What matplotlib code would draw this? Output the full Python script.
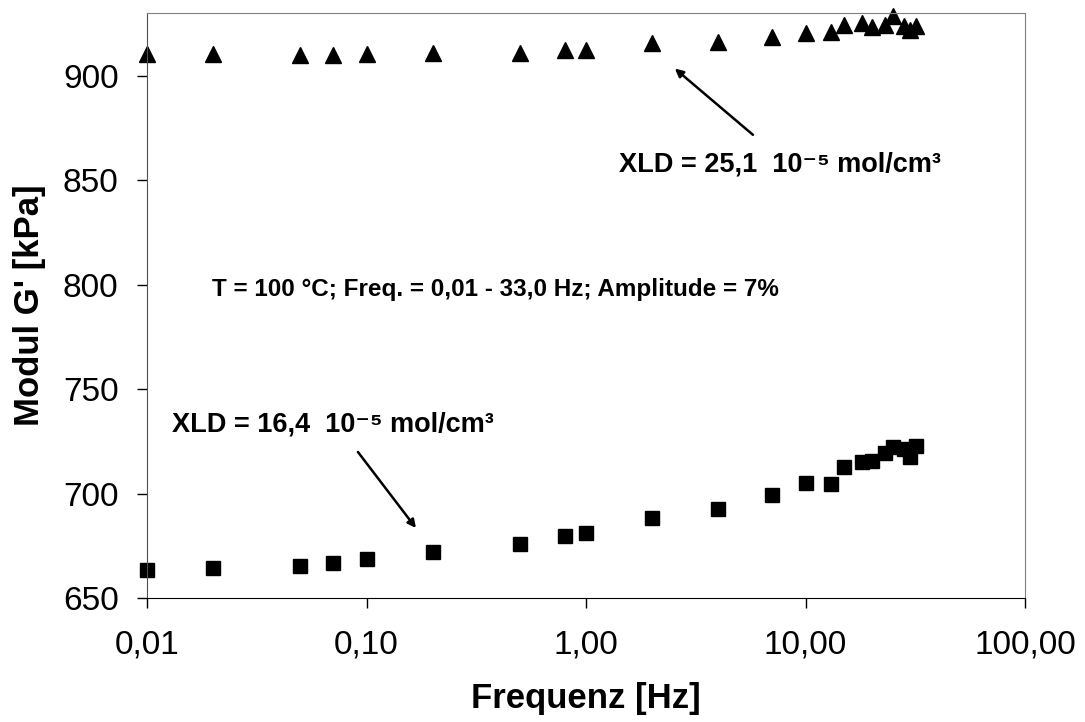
import numpy as np
import matplotlib
matplotlib.use("Agg")
import matplotlib.pyplot as plt
from matplotlib.ticker import FixedLocator, FuncFormatter, NullLocator

plt.rcParams['font.family'] = ['Liberation Sans', 'DejaVu Sans']

# Frequenz [Hz]
freq = [0.01, 0.02, 0.05, 0.07, 0.1, 0.2, 0.5, 0.8, 1.0, 2.0, 4.0, 7.0,
        10.0, 13.0, 15.0, 18.0, 20.0, 23.0, 25.0, 28.0, 30.0, 32.0]
# Modul G' [kPa], XLD = 25,1
g_hoch = [910.5, 910.5, 910, 910, 910.5, 911, 911, 912.5, 912.5, 915.8, 916, 918.7,
          920.6, 921, 924.4, 925, 923.5, 924.4, 928.7, 924, 922, 924]
# Modul G' [kPa], XLD = 16,4
g_tief = [663.4, 664.4, 665.3, 666.8, 668.7, 672, 675.9, 679.7, 681,
          688.3, 692.6, 699.3, 705, 704.6, 712.7, 715, 715.6, 719.4, 722.3, 721.4, 717.5, 722.8]

xticks = [0.01, 0.1, 1, 10, 100]
yticks = [650, 700, 750, 800, 850, 900]

fig = plt.figure(figsize=(10.85, 7.22), dpi=100)
ax = fig.add_axes([0.1355, 0.1717, 0.8092, 0.8103])

ax.plot(freq, g_hoch, linestyle='none', marker='^', color='black', ms=11, clip_on=False)
ax.plot(freq, g_tief, linestyle='none', marker='s', color='black', ms=10, clip_on=False)

ax.set_xscale('log')
ax.set_xlim(0.01, 100)
ax.set_ylim(650, 930)
ax.xaxis.set_major_locator(FixedLocator(xticks))
ax.xaxis.set_minor_locator(NullLocator())
ax.xaxis.set_major_formatter(FuncFormatter(lambda v, p: ('%.2f' % v).replace('.', ',')))
ax.set_yticks(yticks)

ax.tick_params(axis='both', direction='out', length=7, width=1, labelsize=24)
ax.tick_params(axis='y', pad=13.5)
ax.tick_params(axis='x', pad=16)
ax.spines['top'].set_color('#808080')
ax.spines['right'].set_color('#808080')
ax.spines['left'].set_color('#505050')

ax.set_xlabel('Frequenz [Hz]', fontsize=25, fontweight='bold', labelpad=15)
ax.set_ylabel("Modul G' [kPa]", fontsize=25, fontweight='bold', labelpad=12)

ax.text(0.0198, 797.5, 'T = 100 °C; Freq. = 0,01 - 33,0 Hz; Amplitude = 7%',
        ha='left', va='center', fontsize=17.5, fontweight='bold')

pfeil = dict(arrowstyle='-|>', color='black', lw=1.8, mutation_scale=12, shrinkA=0, shrinkB=0)
ax.annotate('', xy=(2.54, 903.4), xytext=(5.76, 871.7), arrowprops=pfeil)
ax.text(1.413, 854.0, 'XLD = 25,1  10⁻⁵ mol/cm³', fontsize=19.5, fontweight='bold',
        ha='left', va='baseline')

ax.annotate('', xy=(0.168, 683.5), xytext=(0.0914, 719.9), arrowprops=pfeil)
ax.text(0.0130, 729.5, 'XLD = 16,4  10⁻⁵ mol/cm³', fontsize=19.5, fontweight='bold',
        ha='left', va='baseline')

fig.savefig('out.png', dpi=100)
